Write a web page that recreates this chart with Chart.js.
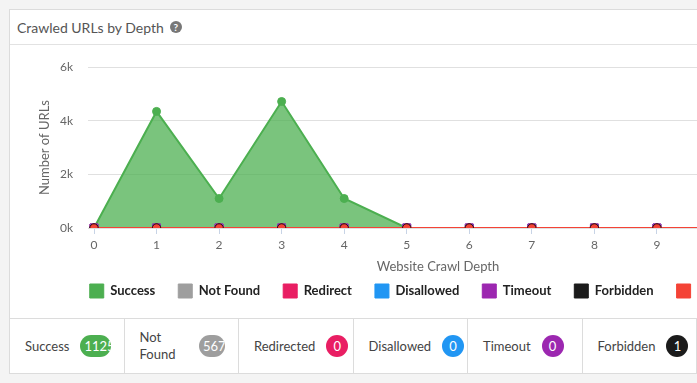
<!DOCTYPE html>
<html>
<head>
<meta charset="utf-8">
<script src="https://cdn.jsdelivr.net/npm/chart.js@4/dist/chart.umd.min.js"></script>
<style>
  html,body{margin:0;padding:0;}
  body{width:697px;height:383px;overflow:hidden;background:#f4f4f4;font-family:Lato,"Open Sans",sans-serif;position:relative;}
  .card{position:absolute;left:9px;top:9px;width:840px;background:#fff;border:1px solid #dcdcdc;}
  .hdr{height:34px;border-bottom:1px solid #e2e2e2;display:flex;align-items:center;padding-left:7px;font-size:14px;color:#555;}
  .q{display:inline-block;width:12px;height:12px;border-radius:50%;background:#777;color:#fff;font-size:10px;font-weight:bold;line-height:12px;text-align:center;margin-left:6px;}
  .chartbox{position:relative;width:818px;height:273px;}
  .stats{display:flex;border-top:1px solid #dcdcdc;height:54px;}
  .cell{width:114.5px;flex:none;box-sizing:border-box;border-right:1px solid #dcdcdc;display:flex;align-items:center;padding:0 13px 0 15px;font-size:13px;color:#444;line-height:17px;}
  .lbl{flex:0 1 auto;}
  .badge{flex:0 1 auto;margin-left:11px;height:22px;min-width:22px;box-sizing:border-box;padding:0 4px;border-radius:11px;color:#fff;font-size:13px;line-height:22px;text-align:center;overflow:hidden;white-space:nowrap;}
</style>
</head>
<body>
<div class="card">
  <div class="hdr">Crawled URLs by Depth<span class="q">?</span></div>
  <div class="chartbox"><canvas id="c"></canvas></div>
  <div class="stats" id="stats"></div>
</div>
<script>
const depthLabels = ['0','1','2','3','4','5','6','7','8','9','10','11'];
const seriesNames = ['Success','Not Found','Redirect','Disallowed','Timeout','Forbidden','Error'];
const seriesColors = ['#4caf50','#9e9e9e','#e91e63','#2196f3','#9c27b0','#1b1b1b','#f44336'];
const successValues   = [0,4350,1100,4720,1100,0,0,0,0,0,0,0];
const notFoundValues  = [0,0,0,0,0,0,0,0,0,0,0,0];
const redirectValues  = [0,0,0,0,0,0,0,0,0,0,0,0];
const disallowedValues= [0,0,0,0,0,0,0,0,0,0,0,0];
const timeoutValues   = [0,0,0,0,0,0,0,0,0,0,0,0];
const forbiddenValues = [0,0,0,0,0,0,0,0,0,0,0,0];
const errorValues     = [0,0,0,0,0,0,0,0,0,0,0,0];
const yTicks = [0,2000,4000,6000];
const statNames = ['Success','Not Found','Redirected','Disallowed','Timeout','Forbidden','Error'];
const statCounts = [1125,567,0,0,0,1,0];

const st = document.getElementById('stats');
statNames.forEach((n,i)=>{
  const c=document.createElement('div');c.className='cell';
  c.innerHTML='<span class="lbl">'+n+'</span><span class="badge" style="background:'+seriesColors[i]+'">'+statCounts[i]+'</span>';
  st.appendChild(c);
});

const allValues=[successValues,notFoundValues,redirectValues,disallowedValues,timeoutValues,forbiddenValues,errorValues];
const pStyles=['circle','rect','rect','rect','rect','circle','circle'];
const pRadius=[4,5.5,5.5,5.5,5.5,4,4.2];
const pBorders=['#4caf50','#777','#c2185b','#8e3bc0','#9c27b0','#111','#3a0f14'];
// drawing stack: first in array is drawn on top
const stack=[6,5,3,4,2,1,0];
const datasets = stack.map(i=>({
  label:seriesNames[i],
  rank:i,
  data:allValues[i],
  borderColor:seriesColors[i],
  backgroundColor: i===0 ? 'rgba(76,175,80,0.74)' : seriesColors[i],
  fill: i===0 ? 'origin' : false,
  borderWidth:2,
  tension:0,
  pointRadius: pRadius[i],
  pointStyle:pStyles[i],
  pointBackgroundColor: seriesColors[i],
  pointBorderColor: pBorders[i],
  pointBorderWidth:1
}));

Chart.defaults.font.family = 'Lato, "Open Sans", sans-serif';
new Chart(document.getElementById('c'),{
  type:'line',
  data:{labels:depthLabels,datasets},
  options:{
    responsive:true,maintainAspectRatio:false,animation:false,
    layout:{padding:{left:24,right:46,top:19.8,bottom:10}},
    plugins:{
      tooltip:{enabled:false},
      legend:{
        position:'bottom',
        labels:{
          boxWidth:14,boxHeight:14,padding:23,color:'#222',
          font:{size:13,weight:'bold'},
          generateLabels(chart){
            const items=Chart.defaults.plugins.legend.labels.generateLabels(chart);
            items.forEach(it=>{const ds=chart.data.datasets[it.datasetIndex];it.fillStyle=ds.borderColor;it.strokeStyle=ds.borderColor;it.lineWidth=1;});
            return items.sort((a,b)=>chart.data.datasets[a.datasetIndex].rank-chart.data.datasets[b.datasetIndex].rank);
          }
        }
      }
    },
    scales:{
      x:{
        grid:{drawOnChartArea:false,color:'#c8d4e6',tickLength:6},
        border:{display:false},
        ticks:{color:'#666',font:{size:12},padding:4,maxRotation:0},
        title:{display:true,text:'Website Crawl Depth',color:'#666',font:{size:13},padding:{top:3,bottom:-14}}
      },
      y:{
        min:0,max:6000,
        afterBuildTicks(s){s.ticks=yTicks.map(v=>({value:v}));},
        afterFit(s){s.width=60;},
        grid:{color:'#e0e0e0',tickLength:6},
        border:{display:false},
        ticks:{color:'#666',font:{size:12},padding:15,callback:v=>(v/1000)+'k'},
        title:{display:true,text:'Number of URLs',color:'#666',font:{size:13},padding:{top:3,bottom:7}}
      }
    }
  }
});
</script>
</body>
</html>
